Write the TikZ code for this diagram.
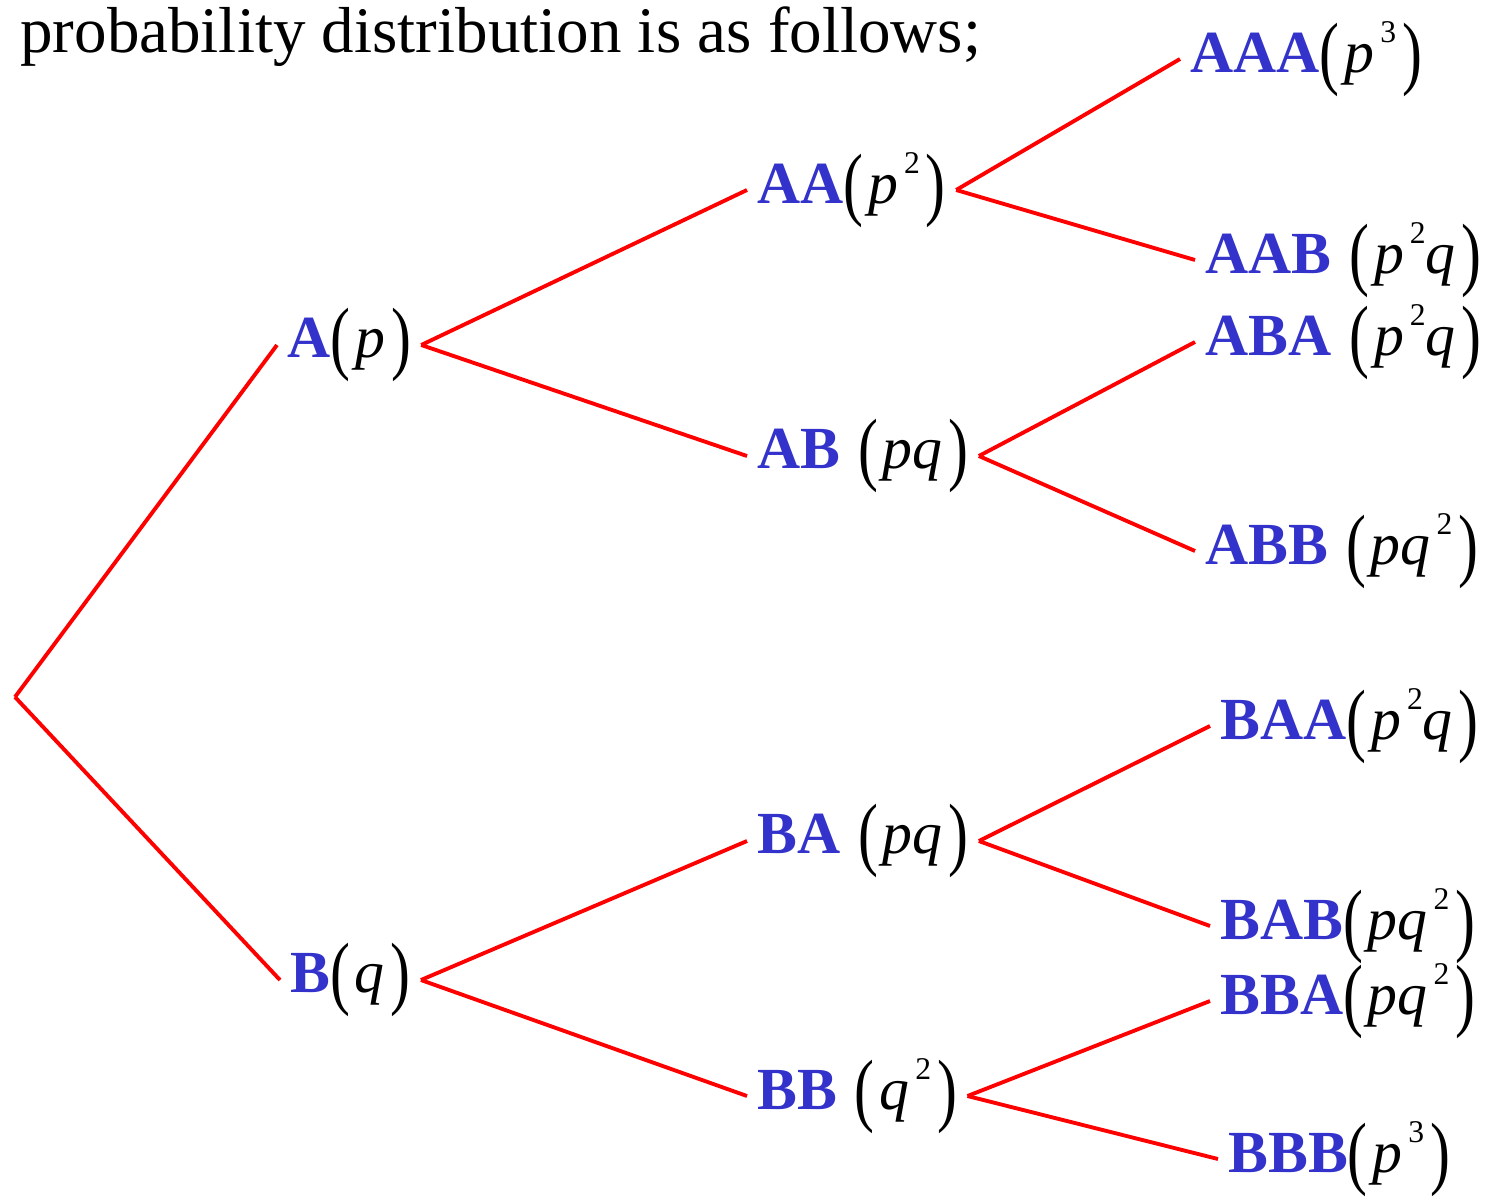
\documentclass[tikz,border=0pt]{standalone}
\usepackage{fontspec}
\setmainfont{Liberation Serif}
\usepackage{graphicx}
\usepackage{xcolor}
\usepackage{tikz}
\definecolor{treeblue}{RGB}{51,51,204}
\definecolor{treered}{RGB}{255,0,0}
\newcommand{\lpar}{\raisebox{-0.12em}{\scalebox{1}[1.36]{(}}\kern0.08em}
\newcommand{\rpar}{\kern0.1em\raisebox{-0.12em}{\scalebox{1}[1.36]{)}}}
\newcommand{\ev}[1]{{\bfseries\color{treeblue}#1}}
\newcommand{\gap}{\hspace{0.3em}}
\newcommand{\pw}[1]{\kern0.1em\raisebox{0.5em}{\fontsize{18}{18}\selectfont #1}}
\tikzset{
  outcome/.style={anchor=west, inner sep=0.2cm, font=\fontsize{34}{40}\selectfont},
  branch/.style={draw=treered, line width=2.2pt}
}

\begin{document}
\begin{tikzpicture}[x=0.02cm, y=-0.02cm]
  \useasboundingbox (0,0) rectangle (1496,1199);
  \node[outcome, font=\fontsize{37}{42}\selectfont] (title) at (10,37) {probability distribution is as follows;};
  \coordinate (root) at (15,697);
  % first toss
  \node[outcome] (A) at (277,345) {\ev{A}\lpar\textit{p}\rpar};
  \node[outcome] (B) at (280,980) {\ev{B}\lpar\textit{q}\rpar};
  % second toss
  \node[outcome] (AA) at (747,190) {\ev{AA}\lpar\textit{p}\pw{2}\rpar};
  \node[outcome] (AB) at (747,456) {\ev{AB}\gap\lpar\textit{pq}\rpar};
  \node[outcome] (BA) at (747,841) {\ev{BA}\gap\lpar\textit{pq}\rpar};
  \node[outcome] (BB) at (747,1096) {\ev{BB}\gap\lpar\textit{q}\pw{2}\rpar};
  % third toss
  \node[outcome] (AAA) at (1180,59) {\ev{AAA}\lpar\textit{p}\pw{3}\rpar};
  \node[outcome] (AAB) at (1195,260) {\ev{AAB}\gap\lpar\textit{p}\pw{2}\textit{q}\rpar};
  \node[outcome] (ABA) at (1195,342) {\ev{ABA}\gap\lpar\textit{p}\pw{2}\textit{q}\rpar};
  \node[outcome] (ABB) at (1195,551) {\ev{ABB}\gap\lpar\textit{pq}\pw{2}\rpar};
  \node[outcome] (BAA) at (1210,726) {\ev{BAA}\lpar\textit{p}\pw{2}\textit{q}\rpar};
  \node[outcome] (BAB) at (1210,926) {\ev{BAB}\lpar\textit{pq}\pw{2}\rpar};
  \node[outcome] (BBA) at (1210,1001) {\ev{BBA}\lpar\textit{pq}\pw{2}\rpar};
  \node[outcome] (BBB) at (1218,1159) {\ev{BBB}\lpar\textit{p}\pw{3}\rpar};
  \draw[branch] (root) -- (A.west);
  \draw[branch] (root) -- (B.west);
  \draw[branch] (A.east) -- (AA.west);
  \draw[branch] (A.east) -- (AB.west);
  \draw[branch] (B.east) -- (BA.west);
  \draw[branch] (B.east) -- (BB.west);
  \draw[branch] (AA.east) -- (AAA.west);
  \draw[branch] (AA.east) -- (AAB.west);
  \draw[branch] (AB.east) -- (ABA.west);
  \draw[branch] (AB.east) -- (ABB.west);
  \draw[branch] (BA.east) -- (BAA.west);
  \draw[branch] (BA.east) -- (BAB.west);
  \draw[branch] (BB.east) -- (BBA.west);
  \draw[branch] (BB.east) -- (BBB.west);
\end{tikzpicture}
\end{document}
